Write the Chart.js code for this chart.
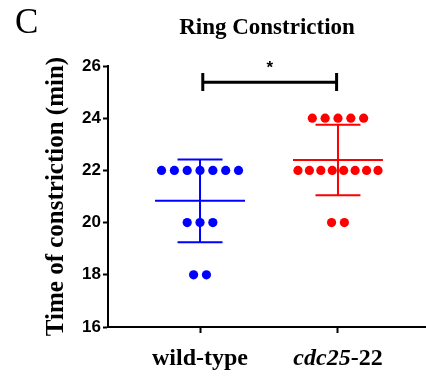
<!DOCTYPE html>
<html>
<head>
<meta charset="utf-8">
<script src="https://cdn.jsdelivr.net/npm/chart.js@4/dist/chart.umd.min.js"></script>
<style>
  html, body { margin: 0; padding: 0; background: #fff; }
  #wrap { width: 426px; height: 376px; }
</style>
</head>
<body>
<div id="wrap"><canvas id="chart" width="426" height="376"></canvas></div>
<script>
// ── Data ─────────────────────────────────────────────────────────────────────
const categories  = ["wild-type", "cdc25-22"];
const wildType    = [22, 22, 22, 22, 22, 22, 22, 20, 20, 20, 18, 18];
const cdc25       = [24, 24, 24, 24, 24, 22, 22, 22, 22, 22, 22, 22, 22, 20, 20];
const yTickValues = [16, 18, 20, 22, 24, 26];
const sigLabel    = "*";

// ── Layout helpers (in x-axis units, one unit between groups) ────────────────
const dotStep   = 0.093;
const maxSpread = 0.58;
const meanHalf  = 0.326;
const capHalf   = 0.163;

// spread repeated values sideways like a dot plot
function swarm(values, center) {
  const counts = {};
  values.forEach(v => { counts[v] = (counts[v] || 0) + 1; });
  const pts = [];
  Object.keys(counts).forEach(k => {
    const n = counts[k];
    const step = n > 1 ? Math.min(dotStep, maxSpread / (n - 1)) : 0;
    for (let i = 0; i < n; i++) pts.push({ x: center + (i - (n - 1) / 2) * step, y: +k });
  });
  return pts;
}

function meanSd(values) {
  const m = values.reduce((a, b) => a + b, 0) / values.length;
  const v = values.reduce((a, b) => a + (b - m) * (b - m), 0) / (values.length - 1);
  return [m, Math.sqrt(v)];
}

function errorBars(values, center) {
  const [m, s] = meanSd(values);
  return [
    { x: center - meanHalf, y: m }, { x: center + meanHalf, y: m }, { x: center, y: null },
    { x: center - capHalf, y: m + s }, { x: center + capHalf, y: m + s }, { x: center, y: null },
    { x: center, y: m + s }, { x: center, y: m - s }, { x: center, y: null },
    { x: center - capHalf, y: m - s }, { x: center + capHalf, y: m - s }
  ];
}

// significance bracket between the two groups
const bracketX = [1.02, 1.99];
const bracketY = 25.38;
const bracketTicks = [25.73, 25.04];
const bracket = [
  { x: bracketX[0], y: bracketTicks[0] }, { x: bracketX[0], y: bracketTicks[1] }, { x: 1, y: null },
  { x: bracketX[0], y: bracketY }, { x: bracketX[1], y: bracketY }, { x: 1, y: null },
  { x: bracketX[1], y: bracketTicks[0] }, { x: bracketX[1], y: bracketTicks[1] }
];

const lineStyle = { type: "scatter", showLine: true, spanGaps: false, pointRadius: 0, borderWidth: 2, fill: false };

// ── Extra text: panel letter, asterisk, mixed-style x labels ─────────────────
const textPlugin = {
  id: "extraText",
  afterDraw(chart) {
    const { ctx, scales: { x, y } } = chart;
    ctx.save();
    ctx.fillStyle = "#000";

    ctx.font = "35px 'Liberation Serif'";
    ctx.textAlign = "left";
    ctx.textBaseline = "alphabetic";
    ctx.fillText("C", 15, 33);

    ctx.font = "bold 17px 'Liberation Sans'";
    ctx.textAlign = "center";
    ctx.fillText(sigLabel, x.getPixelForValue((bracketX[0] + bracketX[1]) / 2), y.getPixelForValue(bracketY) - 9);

    const base = 365;
    ctx.font = "bold 24px 'Liberation Serif'";
    ctx.fillText(categories[0], x.getPixelForValue(1), base);

    const itPart = "cdc25", rest = "-22";
    ctx.font = "italic bold 24px 'Liberation Serif'";
    const w1 = ctx.measureText(itPart).width;
    ctx.font = "bold 24px 'Liberation Serif'";
    const w2 = ctx.measureText(rest).width;
    const left = x.getPixelForValue(2) - (w1 + w2) / 2;
    ctx.textAlign = "left";
    ctx.font = "italic bold 24px 'Liberation Serif'";
    ctx.fillText(itPart, left, base);
    ctx.font = "bold 24px 'Liberation Serif'";
    ctx.fillText(rest, left + w1, base);
    ctx.restore();
  }
};

new Chart(document.getElementById("chart").getContext("2d"), {
  type: "scatter",
  data: {
    datasets: [
      { data: swarm(wildType, 1), backgroundColor: "#0000FF", borderWidth: 0, pointRadius: 4.6 },
      { data: swarm(cdc25, 2),    backgroundColor: "#FF0000", borderWidth: 0, pointRadius: 4.6 },
      { ...lineStyle, data: errorBars(wildType, 1), borderColor: "#0000FF" },
      { ...lineStyle, data: errorBars(cdc25, 2),    borderColor: "#FF0000" },
      { ...lineStyle, data: bracket, borderColor: "#000", borderWidth: 3, clip: false }
    ]
  },
  options: {
    responsive: false,
    animation: false,
    devicePixelRatio: 1,
    layout: { autoPadding: false, padding: 0 },
    plugins: {
      legend: { display: false },
      tooltip: { enabled: false },
      title: {
        display: true,
        text: "Ring Constriction",
        fullSize: false,
        color: "#000",
        font: { family: "'Liberation Serif'", size: 23, weight: "bold" },
        padding: { top: 14, bottom: 24.4 }
      }
    },
    scales: {
      x: {
        type: "linear",
        min: 0.333,
        max: 2.638,
        afterBuildTicks: s => { s.ticks = [{ value: 1 }, { value: 2 }]; },
        afterFit: s => { s.height = 49; },
        border: { display: true, color: "#000", width: 2 },
        grid: { drawOnChartArea: false, drawTicks: true, tickLength: 6, tickWidth: 2, color: "#000" },
        ticks: { display: false }
      },
      y: {
        min: 16,
        max: 26,
        afterBuildTicks: s => { s.ticks = yTickValues.map(v => ({ value: v })); },
        afterFit: s => { s.width = 108; },
        border: { display: true, color: "#000", width: 2 },
        grid: { drawOnChartArea: false, drawTicks: true, tickLength: 5, tickWidth: 2, color: "#000" },
        ticks: { color: "#000", padding: 2, font: { family: "'Liberation Sans'", size: 17, weight: "bold" } },
        title: {
          display: true,
          text: "Time of constriction (min)",
          color: "#000",
          font: { family: "'Liberation Serif'", size: 25, weight: "bold" },
          padding: { top: 42, bottom: 0 }
        }
      }
    }
  },
  plugins: [textPlugin]
});
</script>
</body>
</html>
